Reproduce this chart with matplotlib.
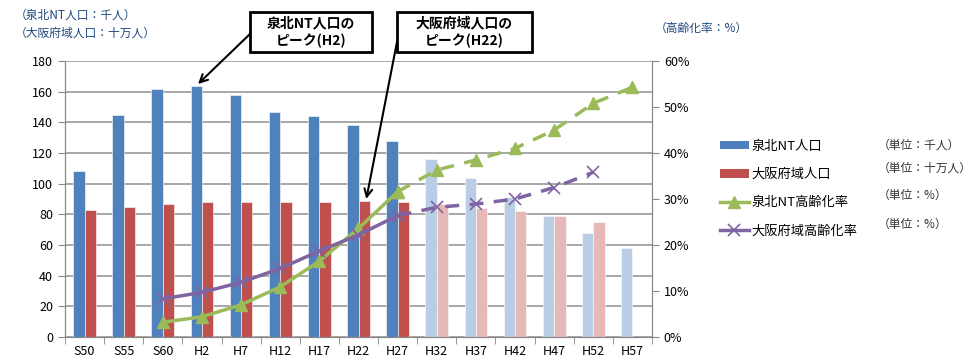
import numpy as np
import matplotlib
matplotlib.use("Agg")
import matplotlib.pyplot as plt
from matplotlib.patches import Patch, Rectangle
from matplotlib.lines import Line2D

plt.rcParams["font.family"] = ["Noto Sans CJK JP", "DejaVu Sans"]

# データ
years = ["S50", "S55", "S60", "H2", "H7", "H12", "H17", "H22", "H27",
         "H32", "H37", "H42", "H47", "H52", "H57"]
nt_pop = [108, 145, 162, 164, 158, 147, 144, 138, 128, 116, 104, 91, 79, 68, 58]
osaka_pop = [83, 85, 87, 88, 88, 88, 88, 89, 88, 87, 84, 82, 79, 75, np.nan]
nt_aging = [np.nan, np.nan, 3.2, 4.4, 7.0, 10.9, 16.5, 23.6, 31.6,
            36.3, 38.5, 41.0, 45.0, 50.8, 54.3]
osaka_aging = [np.nan, np.nan, 8.3, 9.7, 11.9, 14.9, 18.7, 22.2, 26.4,
               28.2, 28.9, 30.0, 32.5, 35.8, np.nan]
n_actual = 9  # H27 までが実績

BLUE, RED = "#4F81BD", "#C0504D"
LBLUE, LRED = "#B9CDE5", "#E6B9B8"
GREEN, PURPLE = "#9BBB59", "#8064A2"
NAVY = "#1F497D"

W, H = 975, 359


def fx(px):
    return px / W


def fy(py):
    return 1 - py / H


fig = plt.figure(figsize=(W / 100, H / 100), dpi=100)
ax = fig.add_axes([fx(65), fy(337), fx(652) - fx(65), fy(61) - fy(337)])
ax2 = ax.twinx()

x = np.arange(len(years))
bw = 0.29
bcol = [BLUE if i < n_actual else LBLUE for i in x]
rcol = [RED if i < n_actual else LRED for i in x]
ax.bar(x - bw / 2, nt_pop, bw, color=bcol, edgecolor="white", linewidth=0.4, zorder=2)
ax.bar(x + bw / 2, osaka_pop, bw, color=rcol, edgecolor="white", linewidth=0.4, zorder=2)

ax.set_ylim(0, 180)
ax.set_yticks(range(0, 181, 20))
ax.set_xlim(-0.5, len(years) - 0.5)
ax.set_xticks(x)
ax.set_xticklabels(years)
ax.set_xticks(np.arange(-0.5, len(years), 1), minor=True)
ax.tick_params(axis="x", which="major", length=0, labelsize=9, pad=6)
ax.tick_params(axis="x", which="minor", length=5, color="#888888")
ax.tick_params(axis="y", length=5, color="#888888", labelsize=9)
ax.grid(axis="y", color="#A0A0A0", linewidth=1.3, zorder=0)
ax.set_axisbelow(True)

# 高齢化率 (実線: 実績, 破線: 推計)
a = np.array(nt_aging)
b = np.array(osaka_aging)
s = slice(0, n_actual)
p = slice(n_actual - 1, None)
ax2.plot(x[s], a[s], color=GREEN, lw=2.5, marker="^", ms=8, zorder=3)
ax2.plot(x[p], a[p], color=GREEN, lw=2.5, ls=(0, (4, 3)), marker="^", ms=8, zorder=3)
ax2.plot(x[s], b[s], color=PURPLE, lw=2.5, marker="x", ms=8, mew=1.2, zorder=3)
ax2.plot(x[p], b[p], color=PURPLE, lw=2.5, ls=(0, (4, 3)), marker="x", ms=8, mew=1.2, zorder=3)
ax2.set_ylim(0, 60)
ax2.set_yticks(range(0, 61, 10))
ax2.set_yticklabels([f"{v}%" for v in range(0, 61, 10)])
ax2.tick_params(axis="y", length=5, color="#888888", labelsize=9)

for a_ in (ax, ax2):
    a_.spines["top"].set_visible(False)
    for sp in ("left", "right", "bottom"):
        a_.spines[sp].set_color("#888888")

# 単位
fig.text(fx(15), fy(15), "（泉北NT人口：千人）", color=NAVY, fontsize=8.5, va="center")
fig.text(fx(15), fy(33), "（大阪府域人口：十万人）", color=NAVY, fontsize=8.5, va="center")
fig.text(fx(655), fy(28), "（高齢化率：%）", color=NAVY, fontsize=8.5, va="center")

# 吹き出し
boxes = [
    ((250, 12, 372, 52), "泉北NT人口の\nピーク(H2)", (251, 33), (2.9, 165)),
    ((397, 12, 532, 52), "大阪府域人口の\nピーク(H22)", (397, 42), (7.2, 90)),
]
for (x0, y0, x1, y1), txt, start, tip in boxes:
    fig.patches.append(Rectangle((fx(x0), fy(y1)), fx(x1) - fx(x0), fy(y0) - fy(y1),
                                 transform=fig.transFigure, facecolor="white",
                                 edgecolor="black", linewidth=2, zorder=5))
    fig.text(fx((x0 + x1) / 2), fy((y0 + y1) / 2), txt, ha="center", va="center",
             fontsize=10, fontweight="bold", linespacing=1.25, zorder=6)
    ax2.annotate("", xy=tip, xycoords=ax.transData,
                 xytext=(fx(start[0]), fy(start[1])), textcoords="figure fraction",
                 arrowprops=dict(arrowstyle="->", color="black", lw=1.5,
                                 mutation_scale=14, shrinkA=0, shrinkB=0),
                 annotation_clip=False, zorder=6)

# 凡例
handles = [
    Patch(facecolor=BLUE),
    Patch(facecolor=RED),
    Line2D([], [], color=GREEN, lw=2.5, marker="^", ms=8),
    Line2D([], [], color=PURPLE, lw=2.5, marker="x", ms=8, mew=1.2),
]
labels = ["泉北NT人口", "大阪府域人口", "泉北NT高齢化率", "大阪府域高齢化率"]
fig.legend(handles, labels, loc="upper left", bbox_to_anchor=(fx(708), fy(128)),
           frameon=False, fontsize=9.5, handlelength=2.2, handleheight=0.6,
           labelspacing=1.15, handletextpad=0.2)

units = ["（単位：千人）", "（単位：十万人）", "（単位：%）", "（単位：%）"]
for u, py in zip(units, [145, 168, 195, 224]):
    fig.text(fx(878), fy(py), u, fontsize=8.5, va="center", color="#333333")

fig.savefig("out.png", dpi=100)
